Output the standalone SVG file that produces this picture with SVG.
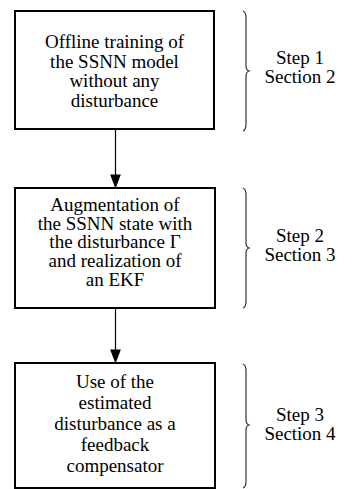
<svg xmlns="http://www.w3.org/2000/svg" width="358" height="489" viewBox="0 0 358 489">
<defs>
<path id="ah" d="M-4.5,-12 L4.5,-12 L0,0 Z" fill="#000"/>
</defs>
<rect width="358" height="489" fill="#fff"/>
<g id="connectors" stroke="#000" stroke-width="1.2" fill="none">
<line x1="115.5" y1="130" x2="115.5" y2="176"/>
<use href="#ah" x="115.5" y="187"/>
<line x1="115.5" y1="309" x2="115.5" y2="351"/>
<use href="#ah" x="115.5" y="362"/>
</g>
<g id="node1">
<rect x="15" y="11" width="199" height="118" fill="#fff" stroke="#000" stroke-width="2"/>
<text font-family="Liberation Serif" font-size="19" text-anchor="middle" x="114.5" y="48">Offline training of</text>
<text font-family="Liberation Serif" font-size="19" text-anchor="middle" x="114.5" y="67.5">the SSNN model</text>
<text font-family="Liberation Serif" font-size="19" text-anchor="middle" x="114.5" y="87">without any</text>
<text font-family="Liberation Serif" font-size="19" text-anchor="middle" x="114.5" y="106.5">disturbance</text>
</g>
<g id="node2">
<rect x="15" y="188" width="200" height="120" fill="#fff" stroke="#000" stroke-width="2"/>
<text font-family="Liberation Serif" font-size="19" text-anchor="middle" x="115" y="211">Augmentation of</text>
<text font-family="Liberation Serif" font-size="19" text-anchor="middle" x="115" y="229.7">the SSNN state with</text>
<text font-family="Liberation Serif" font-size="19" text-anchor="middle" x="115" y="248.4">the disturbance &#915;</text>
<text font-family="Liberation Serif" font-size="19" text-anchor="middle" x="115" y="267">and realization of</text>
<text font-family="Liberation Serif" font-size="19" text-anchor="middle" x="115" y="285.8">an EKF</text>
</g>
<g id="node3">
<rect x="15" y="363" width="200" height="125" fill="#fff" stroke="#000" stroke-width="2"/>
<text font-family="Liberation Serif" font-size="19" text-anchor="middle" x="115" y="388">Use of the</text>
<text font-family="Liberation Serif" font-size="19" text-anchor="middle" x="115" y="409">estimated</text>
<text font-family="Liberation Serif" font-size="19" text-anchor="middle" x="115" y="430">disturbance as a</text>
<text font-family="Liberation Serif" font-size="19" text-anchor="middle" x="115" y="451">feedback</text>
<text font-family="Liberation Serif" font-size="19" text-anchor="middle" x="115" y="472">compensator</text>
</g>
<g id="brace1">
<path d="M243,11 Q246,12 246,18 L246,66 Q246,70 249,71 Q246,72 246,76 L246,124 Q246,130 243,131" fill="none" stroke="#333" stroke-width="1.2"/>
<text font-family="Liberation Serif" font-size="19" text-anchor="middle" x="300" y="64">Step 1</text>
<text font-family="Liberation Serif" font-size="19" text-anchor="middle" x="300" y="83">Section 2</text>
</g>
<g id="brace2">
<path d="M243,188 Q246,189 246,195 L246,243 Q246,247 249,248 Q246,249 246,253 L246,301 Q246,307 243,308" fill="none" stroke="#333" stroke-width="1.2"/>
<text font-family="Liberation Serif" font-size="19" text-anchor="middle" x="300" y="242">Step 2</text>
<text font-family="Liberation Serif" font-size="19" text-anchor="middle" x="300" y="261">Section 3</text>
</g>
<g id="brace3">
<path d="M243,364 Q246,365 246,371 L246,420 Q246,424 249,425 Q246,426 246,430 L246,481 Q246,487 243,488" fill="none" stroke="#333" stroke-width="1.2"/>
<text font-family="Liberation Serif" font-size="19" text-anchor="middle" x="300" y="421">Step 3</text>
<text font-family="Liberation Serif" font-size="19" text-anchor="middle" x="300" y="440">Section 4</text>
</g>
</svg>
